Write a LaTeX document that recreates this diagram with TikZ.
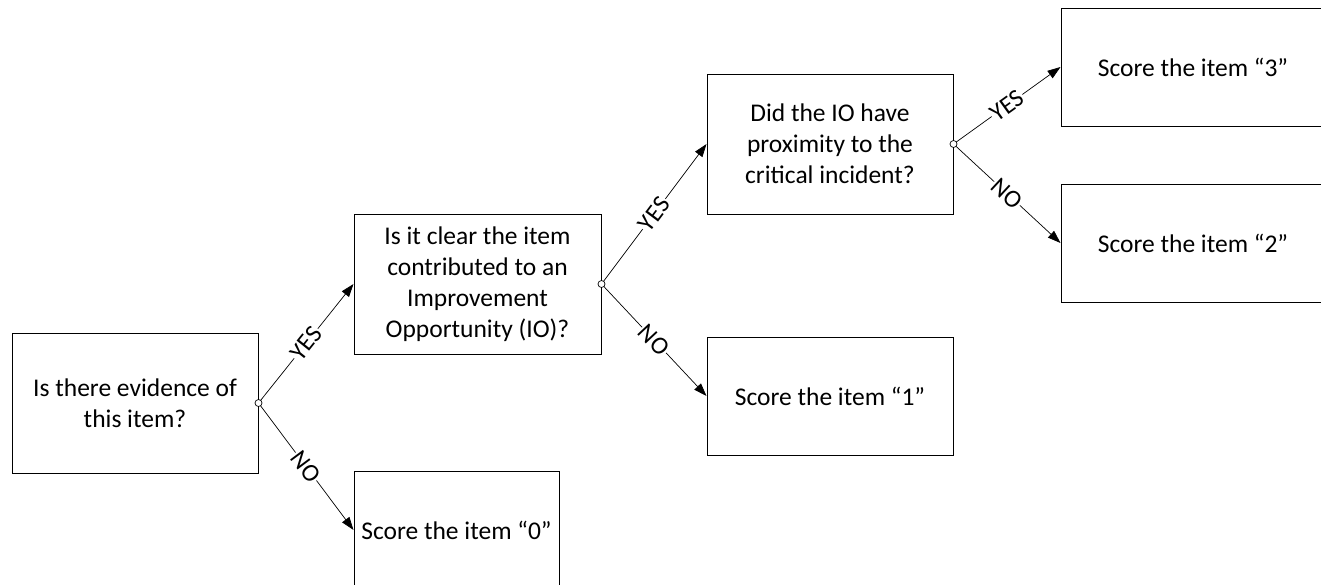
\documentclass[tikz,border=0pt]{standalone}
\usepackage{fontspec}
\setmainfont{Carlito}
\usetikzlibrary{arrows.meta}
\begin{document}
\begin{tikzpicture}[x=1pt,y=-1pt,
  box/.style={draw, line width=1pt, rectangle, align=center, inner sep=2pt,
    font=\fontsize{25.5}{31.2}\selectfont},
  conn/.style={line width=0.7pt, -{Triangle[length=13pt,width=9pt]}},
  lbl/.style={sloped, midway, fill=white, inner sep=1pt,
    font=\fontsize{25}{30}\selectfont},
  knob/.style={draw, line width=0.7pt, fill=white, circle, minimum size=7pt, inner sep=0pt}
]
\useasboundingbox (0,0) rectangle (1321,584);
\clip (0,0) rectangle (1321,584);
\node[box, minimum width=246pt, minimum height=140pt] (A) at (135,403) {Is there evidence of\\this item?};
\node[box, minimum width=247pt, minimum height=140pt] (B) at (477.5,284) {Is it clear the item\\contributed to an\\Improvement\\Opportunity (IO)?};
\node[box, minimum width=205pt, minimum height=118pt] (C) at (456.5,530) {Score the item “0”};
\node[box, minimum width=246pt, minimum height=140pt] (D) at (830,144) {Did the IO have\\proximity to the\\critical incident?};
\node[box, minimum width=246pt, minimum height=118pt] (E) at (830,396) {Score the item “1”};
\node[box, minimum width=264pt, minimum height=118pt] (F) at (1193,67) {Score the item “3”};
\node[box, minimum width=264pt, minimum height=118pt] (G) at (1193,243) {Score the item “2”};

\coordinate (a1) at (A.east);
\coordinate (b1) at (B.east);
\coordinate (d1) at (D.east);

\draw[conn] (a1) -- node[lbl] {YES} (B.west);
\draw[conn] (a1) -- node[lbl] {NO} (C.west);
\draw[conn] (b1) -- node[lbl] {YES} (D.west);
\draw[conn] (b1) -- node[lbl] {NO} (E.west);
\draw[conn] (d1) -- node[lbl] {YES} (F.west);
\draw[conn] (d1) -- node[lbl] {NO} (G.west);

\node[knob] (ka) at (a1) {};
\node[knob] (kb) at (b1) {};
\node[knob] (kd) at (d1) {};
\end{tikzpicture}
\end{document}
